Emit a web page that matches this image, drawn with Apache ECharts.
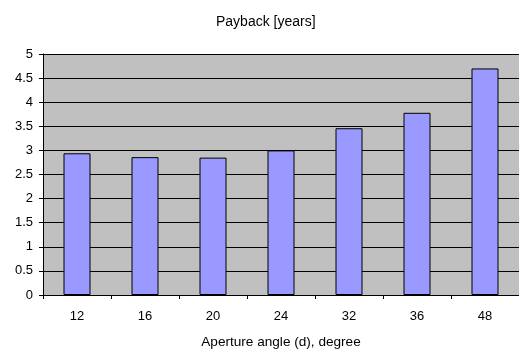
<!DOCTYPE html>
<html>
<head>
<meta charset="utf-8">
<script src="https://cdn.jsdelivr.net/npm/echarts@6/dist/echarts.min.js"></script>
<style>
  html, body { margin: 0; padding: 0; background: #fff; }
  #chart { width: 519px; height: 354px; }
</style>
</head>
<body>
<div id="chart"></div>
<script>
// Aperture angles (degrees) and the payback time for each
const angles = ['12', '16', '20', '24', '32', '36', '48'];
const paybackYears = [2.94, 2.86, 2.85, 3.0, 3.46, 3.78, 4.70];

const chart = echarts.init(document.getElementById('chart'), null, { renderer: 'canvas' });
const font = 'Liberation Sans, Arial, sans-serif';

chart.setOption({
  animation: false,
  backgroundColor: '#ffffff',
  title: {
    text: 'Payback [years]',
    left: 211,
    top: 10,
    textStyle: { fontFamily: font, fontSize: 14, fontWeight: 'normal', color: '#000' }
  },
  grid: {
    left: 43, top: 54, width: 478, height: 244,
    show: true, backgroundColor: '#c0c0c0', borderWidth: 0
  },
  xAxis: {
    type: 'category',
    data: angles,
    name: 'Aperture angle (d), degree',
    nameLocation: 'middle',
    nameGap: 40,
    nameTextStyle: { fontFamily: font, fontSize: 13.6, color: '#000' },
    axisLine: { lineStyle: { color: '#000', width: 1 } },
    axisTick: { show: true, alignWithLabel: false, length: 4, lineStyle: { color: '#000' } },
    axisLabel: { fontFamily: font, fontSize: 13, color: '#000', margin: 15 },
    splitLine: { show: false }
  },
  yAxis: {
    type: 'value',
    min: 0, max: 5, interval: 0.5,
    axisLine: { show: true, lineStyle: { color: '#000', width: 1 } },
    axisTick: { show: true, length: 4, lineStyle: { color: '#000' } },
    axisLabel: { fontFamily: font, fontSize: 13, color: '#000', margin: 10 },
    splitLine: { show: true, lineStyle: { color: '#000', width: 1 } }
  },
  series: [{
    type: 'bar',
    data: paybackYears,
    barWidth: 27,
    itemStyle: { color: '#9999ff', borderColor: '#000', borderWidth: 1 }
  }]
});
</script>
</body>
</html>
